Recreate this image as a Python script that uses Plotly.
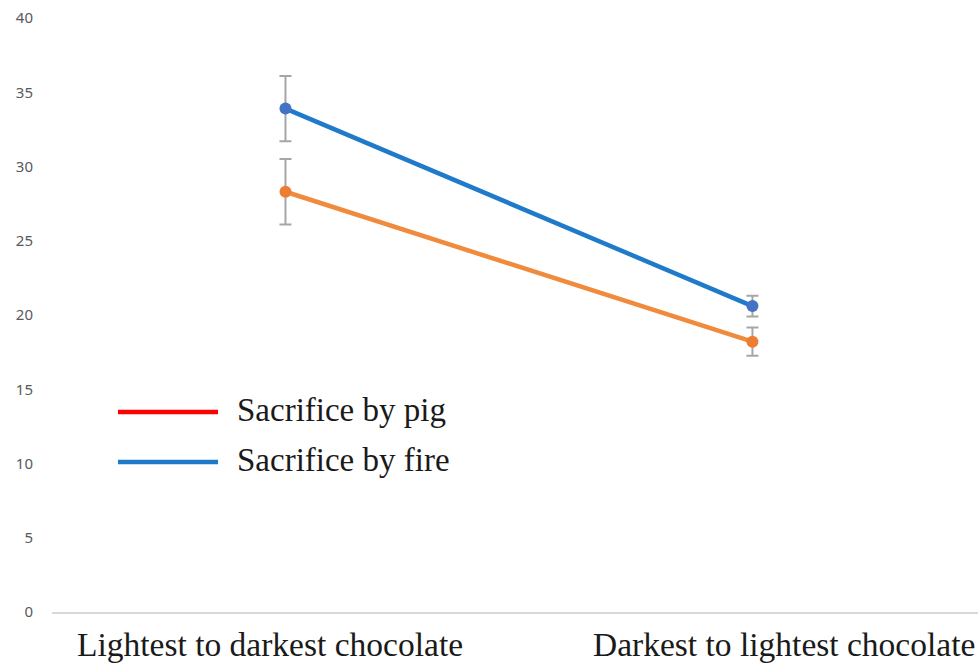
import plotly.graph_objects as go

categories = ["Lightest to darkest chocolate", "Darkest to lightest chocolate"]
pig_values = [28.3, 18.2]
pig_err = [2.2, 0.95]
fire_values = [33.9, 20.6]
fire_err = [2.2, 0.7]
y_ticks = [0, 5, 10, 15, 20, 25, 30, 35, 40]
legend_labels = ["Sacrifice by pig", "Sacrifice by fire"]

x = list(range(len(categories)))

fig = go.Figure()
fig.add_trace(go.Scatter(
    x=x, y=pig_values, mode="lines+markers",
    line=dict(color="#F08A3C", width=4.5),
    marker=dict(color="#ED7D31", size=12),
    error_y=dict(type="data", array=pig_err, color="#A6A6A6", thickness=2, width=6),
    showlegend=False,
))
fig.add_trace(go.Scatter(
    x=x, y=fire_values, mode="lines+markers",
    line=dict(color="#1F7BC9", width=4.5),
    marker=dict(color="#4472C4", size=12),
    error_y=dict(type="data", array=fire_err, color="#A6A6A6", thickness=2, width=6),
    showlegend=False,
))

L, R, T, B = 52, 0, 18, 55
W, H = 978, 667
pw, ph = W - L - R, H - T - B

def px(p):
    return (p - L) / pw

def py(p):
    return (H - B - p) / ph

legend_colors = ["#FF0000", "#1F7BC9"]
legend_ys = [412, 462]
for lab, col, yy in zip(legend_labels, legend_colors, legend_ys):
    fig.add_shape(type="line", xref="paper", yref="paper",
                  x0=px(118), x1=px(218), y0=py(yy), y1=py(yy),
                  line=dict(color=col, width=4.5))
    fig.add_annotation(text=lab, xref="paper", yref="paper",
                       x=px(235), y=py(yy - 2), xanchor="left", yanchor="middle",
                       showarrow=False,
                       font=dict(family="Liberation Serif", size=33, color="#1a1a1a"))

fig.add_annotation(text=categories[0], xref="paper", yref="paper",
                   x=px(270), y=py(644), xanchor="center", yanchor="middle",
                   showarrow=False, borderpad=0,
                   font=dict(family="Liberation Serif", size=33.5, color="#1a1a1a"))
fig.add_annotation(text=categories[1], xref="paper", yref="paper",
                   x=px(976), y=py(644), xanchor="right", yanchor="middle",
                   showarrow=False, borderpad=0,
                   font=dict(family="Liberation Serif", size=33.5, color="#1a1a1a"))

fig.update_layout(
    width=W, height=H,
    margin=dict(l=L, r=R, t=T, b=B),
    plot_bgcolor="white", paper_bgcolor="white",
)
fig.update_xaxes(range=[-0.5, 1.483], showticklabels=False, showgrid=False,
                 zeroline=False, showline=True, linecolor="#D9D9D9", linewidth=1.5)
fig.update_yaxes(range=[0, 40], tickvals=y_ticks, showgrid=False, zeroline=False,
                 showline=False, ticklabelstandoff=18,
                 tickfont=dict(family="Noto Sans", size=15, color="#595959"))

fig.write_html("out.html", config={"displayModeBar": False},
               post_script="document.body.style.margin='0px';document.body.style.overflow='hidden';")
